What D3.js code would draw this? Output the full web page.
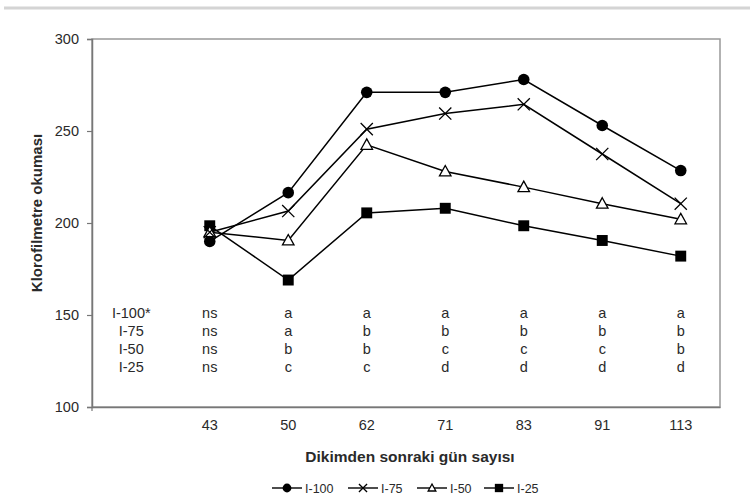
<!DOCTYPE html>
<html>
<head>
<meta charset="utf-8">
<script src="https://cdn.jsdelivr.net/npm/d3@7/dist/d3.min.js"></script>
<style>
  html, body { margin: 0; padding: 0; background: #fff; }
  svg { display: block; }
  text { font-family: "Liberation Sans", Arial, sans-serif; fill: #2a2a2a; }
</style>
</head>
<body>
<script>
// ---- data ----
const days = ["", "43", "50", "62", "71", "83", "91", "113"];
const dataDays = ["43", "50", "62", "71", "83", "91", "113"];
const seriesNames = ["I-100", "I-75", "I-50", "I-25"];
const rowLabels = ["I-100*", "I-75", "I-50", "I-25"];
const i100 = [190, 216.5, 271, 271, 278, 253, 228.5];
const i75  = [195, 206.5, 251, 259.5, 264.5, 237.5, 210.5];
const i50  = [195, 190.5, 242.5, 228, 219.5, 210.5, 202];
const i25  = [198.5, 169, 205.5, 208, 198.5, 190.5, 182];
const letters100 = ["ns", "a", "a", "a", "a", "a", "a"];
const letters75  = ["ns", "a", "b", "b", "b", "b", "b"];
const letters50  = ["ns", "b", "b", "c", "c", "c", "b"];
const letters25  = ["ns", "c", "c", "d", "d", "d", "d"];
const yTicks = [100, 150, 200, 250, 300];
const xTitle = "Dikimden sonraki gün sayısı";
const yTitle = "Klorofilmetre okuması";

const seriesValues = [i100, i75, i50, i25];
const seriesLetters = [letters100, letters75, letters50, letters25];
const markers = ["circle", "cross", "triangle", "square"];

// ---- layout ----
const W = 750, H = 497;
const L = 92, R = 720, T = 39, B = 407;
const FS = 14.5;

const svg = d3.select("body").append("svg").attr("width", W).attr("height", H);

// top gray rule
svg.append("line").attr("x1", 4).attr("x2", W).attr("y1", 8).attr("y2", 8)
  .attr("stroke", "#d4d4d4").attr("stroke-width", 3);

const x = d3.scaleBand().domain(days).range([L, R]).paddingInner(0).paddingOuter(0);
const xc = d => x(d) + x.bandwidth() / 2;
const y = d3.scaleLinear().domain([100, 300]).range([B, T]);

// frame
svg.append("rect").attr("x", L).attr("y", T).attr("width", R - L).attr("height", B - T)
  .attr("fill", "none").attr("stroke", "#999").attr("stroke-width", 1.5);

// y axis
const yAxis = svg.append("g").attr("transform", `translate(${L},0)`)
  .call(d3.axisLeft(y).tickValues(yTicks).tickSize(5).tickPadding(8).tickFormat(d3.format("d")));
yAxis.select(".domain").attr("stroke", "#777").attr("stroke-width", 1.5);
yAxis.selectAll(".tick line").attr("stroke", "#777").attr("stroke-width", 1.2);
yAxis.selectAll("text").attr("font-size", FS).style("fill", "#2a2a2a")
  .attr("font-family", "Liberation Sans, Arial, sans-serif");

// x axis
const xAxis = svg.append("g").attr("transform", `translate(0,${B})`)
  .call(d3.axisBottom(x).tickSize(0).tickPadding(13));
xAxis.select(".domain").attr("stroke", "#777").attr("stroke-width", 1.5);
xAxis.selectAll("text").attr("font-size", FS).style("fill", "#2a2a2a")
  .attr("font-family", "Liberation Sans, Arial, sans-serif");
svg.append("line").attr("x1", L).attr("x2", L).attr("y1", B).attr("y2", B + 4)
  .attr("stroke", "#777").attr("stroke-width", 1.2);

// titles
svg.append("text").attr("x", (L + R) / 2 + 4).attr("y", 462).attr("text-anchor", "middle")
  .attr("font-size", 15.5).attr("font-weight", "bold").text(xTitle);
svg.append("text").attr("transform", `translate(42,213) rotate(-90)`).attr("text-anchor", "middle")
  .attr("font-size", 15).attr("font-weight", "bold").text(yTitle);

// significance letters table
const rowY = [318, 336, 354, 372];
rowLabels.forEach((lab, i) => {
  svg.append("text").attr("x", xc("")).attr("y", rowY[i]).attr("text-anchor", "middle")
    .attr("font-size", FS).text(lab);
  seriesLetters[i].forEach((l, j) => {
    svg.append("text").attr("x", xc(dataDays[j])).attr("y", rowY[i]).attr("text-anchor", "middle")
      .attr("font-size", FS).text(l);
  });
});

// marker drawing
function drawMarker(g, type, cx, cy, s) {
  if (type === "circle") {
    g.append("circle").attr("cx", cx).attr("cy", cy).attr("r", s * 0.55).attr("fill", "#000");
  } else if (type === "square") {
    g.append("rect").attr("x", cx - s * 0.52).attr("y", cy - s * 0.52).attr("width", s * 1.04).attr("height", s * 1.04).attr("fill", "#000");
  } else if (type === "triangle") {
    const h = s * 0.95;
    g.append("path").attr("d", `M${cx},${cy - h * 0.6}L${cx + s * 0.55},${cy + h * 0.45}L${cx - s * 0.55},${cy + h * 0.45}Z`)
      .attr("fill", "#fff").attr("stroke", "#000").attr("stroke-width", 1.3);
  } else if (type === "cross") {
    const d = s * 0.58;
    g.append("path").attr("d", `M${cx - d},${cy - d}L${cx + d},${cy + d}M${cx - d},${cy + d}L${cx + d},${cy - d}`)
      .attr("stroke", "#000").attr("stroke-width", 1.3).attr("fill", "none");
  }
}

// series lines and markers
const line = d3.line().x((d, i) => xc(dataDays[i])).y(d => y(d));
const order = [3, 2, 1, 0];
order.forEach(si => {
  svg.append("path").datum(seriesValues[si]).attr("d", line)
    .attr("fill", "none").attr("stroke", "#000").attr("stroke-width", 1.5);
});
order.forEach(si => {
  const g = svg.append("g");
  seriesValues[si].forEach((v, i) => drawMarker(g, markers[si], xc(dataDays[i]), y(v), 10.5));
});

// legend
const legY = 488;
const legX = [272, 348, 417, 484];
seriesNames.forEach((n, i) => {
  const g = svg.append("g");
  g.append("line").attr("x1", legX[i]).attr("x2", legX[i] + 30).attr("y1", legY).attr("y2", legY)
    .attr("stroke", "#000").attr("stroke-width", 1.4);
  drawMarker(g, markers[i], legX[i] + 15, legY, i === 1 || i === 2 ? 7 : 8);
  g.append("text").attr("x", legX[i] + 33).attr("y", legY + 4.5).attr("font-size", 12.5).text(n);
});
</script>
</body>
</html>
